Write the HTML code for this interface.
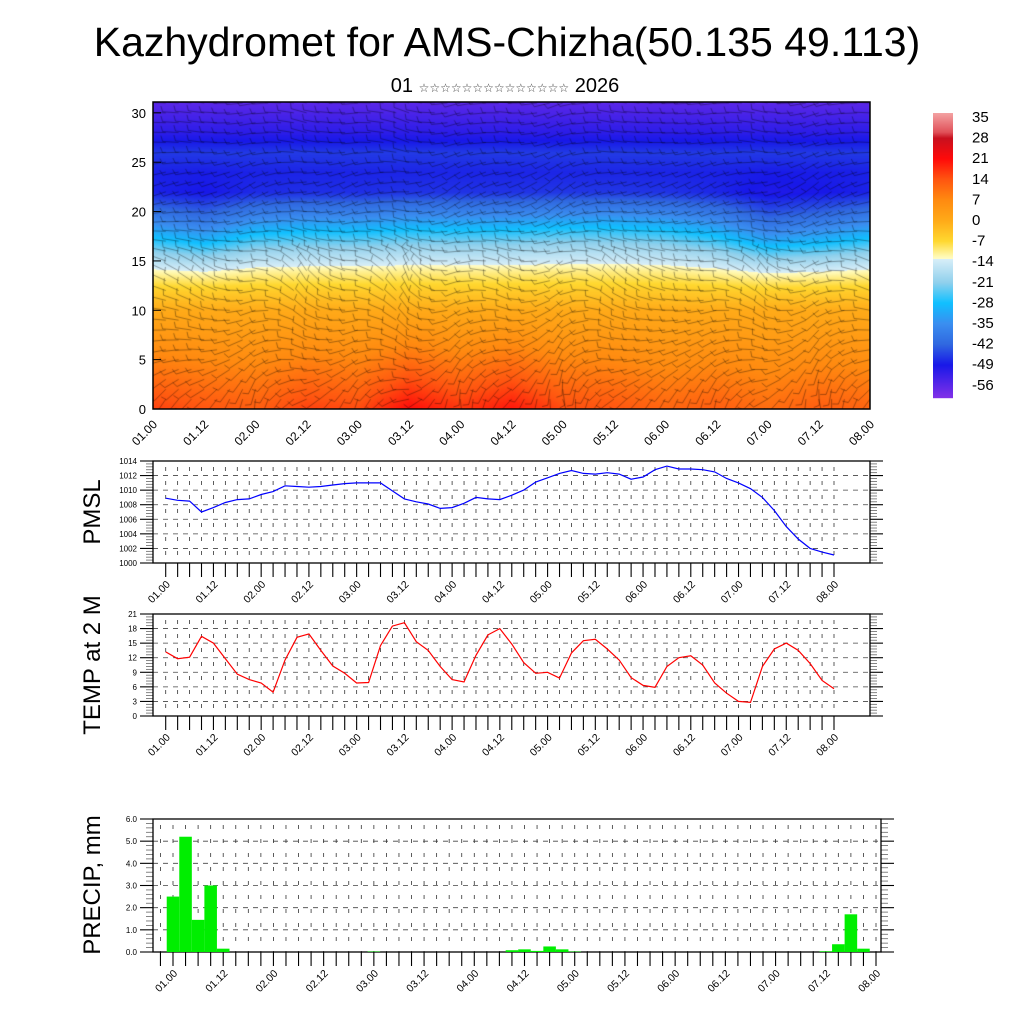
<!DOCTYPE html>
<html><head><meta charset="utf-8">
<style>
html,body{margin:0;padding:0;background:#fff;}
#wrap{position:relative;width:1024px;height:1024px;overflow:hidden;font-family:"Liberation Sans",Arial,sans-serif;}
#field{position:absolute;left:153px;top:102px;}
#ov{position:absolute;left:0;top:0;}
</style></head>
<body>
<div id="wrap">
<canvas id="field" width="717" height="307"></canvas>
<svg id="ov" width="1024" height="1024" xmlns="http://www.w3.org/2000/svg">
<text x="507" y="56" font-size="41" text-anchor="middle" font-family="Liberation Sans, sans-serif">Kazhydromet for AMS-Chizha(50.135 49.113)</text>
<text x="505" y="92" font-size="20" text-anchor="middle" font-family="Liberation Sans, sans-serif">01 <tspan font-size="12" font-family="DejaVu Sans, sans-serif" fill="#444">☆☆☆☆☆☆☆☆☆☆☆☆☆☆</tspan> 2026</text>
<g id="g" font-family="Liberation Sans, sans-serif"></g>
</svg>
</div>
<script>
// ---------- DATA ----------
const timeLabels = ["01.00","01.12","02.00","02.12","03.00","03.12","04.00","04.12","05.00","05.12","06.00","06.12","07.00","07.12","08.00"];
const pmsl = [1008.9,1008.6,1008.5,1007.0,1007.6,1008.3,1008.7,1008.8,1009.4,1009.8,1010.6,1010.5,1010.4,1010.5,1010.7,1010.9,1011.0,1011.0,1011.0,1009.9,1008.8,1008.4,1008.1,1007.5,1007.6,1008.2,1009.0,1008.8,1008.7,1009.3,1010.0,1011.1,1011.7,1012.3,1012.7,1012.3,1012.2,1012.4,1012.2,1011.5,1011.8,1012.8,1013.3,1012.9,1012.9,1012.8,1012.5,1011.6,1011.0,1010.2,1009.0,1007.2,1005.0,1003.3,1002.0,1001.5,1001.1];
const temp2m = [13.2,11.8,12.1,16.4,15.0,11.8,8.6,7.5,6.8,4.9,11.5,16.2,16.9,13.5,10.3,8.8,6.8,6.9,14.5,18.5,19.2,15.3,13.5,10.2,7.5,7.0,12.5,16.7,18.0,14.8,11.0,8.8,9.0,7.8,13.0,15.5,15.8,13.8,11.5,7.9,6.3,5.9,10.2,12.0,12.4,10.5,6.8,4.7,3.0,2.8,10.2,13.8,15.0,13.5,10.8,7.3,5.6];
const precipIdx = [0,1,2,3,4,16,27,28,29,30,31,32,52,53,54,55];
const precipVal = [2.5,5.2,1.45,3.0,0.15,0.02,0.08,0.12,0.05,0.25,0.12,0.02,0.03,0.35,1.7,0.15];
const profH = [0,2,4,6,8,10,12,13,14,15,16,18,20,22,24,26,28,31];
const profT = [15,12,9,6,3,0,-5,-8,-11,-15,-19,-28,-38,-47,-48,-46,-51,-56];
const surfAnom = [1,-1,-2,1,0,6,2,5,0,-1,-3,-2,-4,-2,-3];
const upAnom = [-3,-6,-1,0,0,1,1,1,2,2,1,-2,-8,-6,-3];
const barbDir = [200,210,220,230,240,250,255,260,265,270,275,280,285,290,290,285,280,275,270,265,260,255,250,250,255,260,265,270,270,270,270,270];
const barbVar = [0,15,-20,30,-10,40,-30,10,-40,20,0,-15,25,-35,5];
const cbLabels = ["35","28","21","14","7","0","-7","-14","-21","-28","-35","-42","-49","-56"];

// ---------- helpers ----------
const NS="http://www.w3.org/2000/svg";
const G=document.getElementById('g');
function mk(tag,attrs,parent){const e=document.createElementNS(NS,tag);for(const k in attrs)e.setAttribute(k,attrs[k]);(parent||G).appendChild(e);return e;}
function interp(xs,ys,x){if(x<=xs[0])return ys[0];for(let i=1;i<xs.length;i++){if(x<=xs[i]){const f=(x-xs[i-1])/(xs[i]-xs[i-1]);return ys[i-1]+f*(ys[i]-ys[i-1]);}}return ys[ys.length-1];}
const cmapV=[37,30,28,21,14,7,0,-7,-12,-13,-13.01,-21,-28,-35,-42,-49,-60];
const cmapC=[[245,168,168],[224,80,88],[200,16,30],[255,10,10],[255,85,16],[255,138,16],[255,170,24],[255,216,48],[255,248,176],[255,252,200],[216,238,248],[144,208,236],[16,192,255],[58,142,240],[48,104,224],[24,24,232],[128,48,232]];
function cmap(v){for(let i=1;i<cmapV.length;i++){if(v>=cmapV[i]){const a=cmapV[i-1],b=cmapV[i];let f=(a-v)/(a-b);if(v>a)f=0;const c1=cmapC[i-1],c2=cmapC[i];return [0,1,2].map(k=>Math.round(c1[k]+f*(c2[k]-c1[k])));}}return cmapC[cmapC.length-1];}

// ---------- top cross-section ----------
const TX0=153,TX1=870,TY0=102,TY1=409,HMAX=31.1;
const tx=t=>TX0+(t/56)*(TX1-TX0);
const ty=h=>TY1-(h/HMAX)*(TY1-TY0);
(function(){
 const cv=document.getElementById('field');const ctx=cv.getContext('2d');
 const W=cv.width,H=cv.height;const img=ctx.createImageData(W,H);
 const tIdx=timeLabels.map((_,i)=>i);
 for(let py=0;py<H;py++){
  const h=(H-py)/H*HMAX;
  const base=interp(profH,profT,h);
  const sw=Math.max(0,1-h/10);
  const uw=Math.exp(-Math.pow((h-18)/4,2));
  for(let px=0;px<W;px++){
   const t12=px/W*14;
   const v=base+interp(tIdx,surfAnom,t12)*sw+interp(tIdx,upAnom,t12)*uw;
   const c=cmap(v);const o=(py*W+px)*4;
   img.data[o]=c[0];img.data[o+1]=c[1];img.data[o+2]=c[2];img.data[o+3]=255;
  }
 }
 ctx.putImageData(img,0,0);
 ctx.strokeStyle='rgba(0,0,0,0.5)';ctx.lineWidth=0.7;
 for(let ti=0;ti<=56;ti++){
  const vv=interp(tIdx,barbVar,ti/4);
  for(let hi=0;hi<barbDir.length;hi++){
   const x=tx(ti)-TX0,y=ty(hi)-TY0;
   const ang=(barbDir[hi]+vv*(hi<16?1.2:0.5))*Math.PI/180;
   const L=16,dx=Math.sin(ang)*L,dy=-Math.cos(ang)*L;
   ctx.beginPath();ctx.moveTo(x,y);ctx.lineTo(x+dx,y+dy);
   const ex=x+dx,ey=y+dy;const pa=ang+Math.PI/2.6;
   ctx.moveTo(ex,ey);ctx.lineTo(ex+Math.sin(pa)*6,ey-Math.cos(pa)*6);
   ctx.stroke();
  }
 }
})();
mk('rect',{x:TX0,y:TY0,width:TX1-TX0,height:TY1-TY0,fill:'none',stroke:'#000','stroke-width':1.5,});
for(let h=0;h<=30;h+=5){
 const y=ty(h);
 const t=mk('text',{x:146,y:y+5,'font-size':13,'text-anchor':'end'});t.textContent=h;
 
 
 mk('line',{x1:TX0,x2:TX0+8,y1:y,y2:y,stroke:'#000','stroke-width':1});
}
timeLabels.forEach((lab,i)=>{
 const x=tx(i*4);
 const t=mk('text',{'font-size':12,'text-anchor':'end',transform:`translate(${x+5},${TY1+16}) rotate(-45)`});t.textContent=lab;
 
 
});
(function(){
 const bx=933,by=113,bw=20,bh=285;
 for(let i=0;i<bh;i++){
  const v=36.4-96.8*(i/bh);const c=cmap(v);
  mk('rect',{x:bx,y:by+i,width:bw,height:1.2,fill:`rgb(${c[0]},${c[1]},${c[2]})`});
 }
 cbLabels.forEach((l,i)=>{
  const t=mk('text',{x:972,y:122+i*20.6,'font-size':15});t.textContent=l;
  
  
 });
})();

// ---------- generic line panel ----------
function panel(o){
 const {x0,x1,y0,y1,vmin,vmax,step,dx0,dx1,tmin,tmax,fmt,name,title,titleY}=o;
 const X=t=>dx0+(t/56)*(dx1-dx0);
 const Y=v=>y1-(v-vmin)/(vmax-vmin)*(y1-y0);
 const g=mk('g',{});
 for(let v=vmin+step;v<vmax;v+=step){mk('line',{x1:x0,x2:x1,y1:Y(v),y2:Y(v),stroke:'#444','stroke-width':0.8,'stroke-dasharray':'5 5'},g);}
 for(let t=tmin;t<=tmax;t++){const x=X(t);mk('line',{x1:x,x2:x,y1:y0+6,y2:y1,stroke:'#333','stroke-width':0.8,'stroke-dasharray':'4 10'},g);
  mk('line',{x1:x,x2:x,y1:y1,y2:y1+14,stroke:'#000','stroke-width':1.1},g);}
 const nsteps=Math.round((vmax-vmin)/step);
 for(let k=0;k<=nsteps;k++){
  const v=vmin+k*step,y=Y(v);
  mk('line',{x1:x0-13,x2:x0,y1:y,y2:y,stroke:'#000','stroke-width':1.1},g);
  mk('line',{x1:x1,x2:x1+13,y1:y,y2:y,stroke:'#000','stroke-width':1.1},g);
  if(k<nsteps)for(let m=1;m<5;m++){const ym=Y(v+step*m/5);
   mk('line',{x1:x0-7,x2:x0,y1:ym,y2:ym,stroke:'#666','stroke-width':0.8},g);
   mk('line',{x1:x1,x2:x1+7,y1:ym,y2:ym,stroke:'#666','stroke-width':0.8},g);}
  const t=mk('text',{x:x0-16,y:y+3,'font-size':8,'text-anchor':'end'},g);t.textContent=fmt(v);
  
  
 }
 timeLabels.forEach((lab,i)=>{
  const t=mk('text',{'font-size':10.5,'text-anchor':'end',transform:`translate(${X(i*4)+5},${y1+22}) rotate(-45)`},g);t.textContent=lab;
  
  
 });
 mk('rect',{x:x0,y:y0,width:x1-x0,height:y1-y0,fill:'none',stroke:'#000','stroke-width':1.3},g);
 const tt=mk('text',{'font-size':24,'text-anchor':'middle',transform:`translate(100,${titleY}) rotate(-90)`},g);tt.textContent=title;
 
 
 return {X,Y,g};
}
(function(){
 const p=panel({x0:153,x1:870,y0:461,y1:563,vmin:1000,vmax:1014,step:2,dx0:165.7,dx1:834,tmin:0,tmax:56,fmt:v=>String(v),name:'pmsl',title:'PMSL',titleY:512});
 const pts=pmsl.map((v,i)=>p.X(i).toFixed(1)+','+p.Y(v).toFixed(1)).join(' ');
 const l=mk('polyline',{points:pts,fill:'none',stroke:'#0000ff','stroke-width':1.2},p.g);
 
 
})();
(function(){
 const p=panel({x0:153,x1:870,y0:614,y1:716,vmin:0,vmax:21,step:3,dx0:165.7,dx1:834,tmin:0,tmax:56,fmt:v=>String(v),name:'temp',title:'TEMP at 2 M',titleY:665});
 const pts=temp2m.map((v,i)=>p.X(i).toFixed(1)+','+p.Y(v).toFixed(1)).join(' ');
 const l=mk('polyline',{points:pts,fill:'none',stroke:'#ff0000','stroke-width':1.2},p.g);
 
 
})();
(function(){
 const p=panel({x0:153,x1:881,y0:819,y1:952,vmin:0,vmax:6,step:1,dx0:173,dx1:876,tmin:-1,tmax:56,fmt:v=>v.toFixed(1),name:'precip',title:'PRECIP, mm',titleY:885});
 const w=(876-173)/56;
 precipIdx.forEach((ix,k)=>{
  const x=p.X(ix)-w/2,y=p.Y(precipVal[k]);
  const xe=Math.min(x+w,881);
  const r=mk('rect',{x:x,y:y,width:xe-x,height:952-y,fill:'#00ee00'},p.g);
  
  
 });
})();
</script>
</body></html>
